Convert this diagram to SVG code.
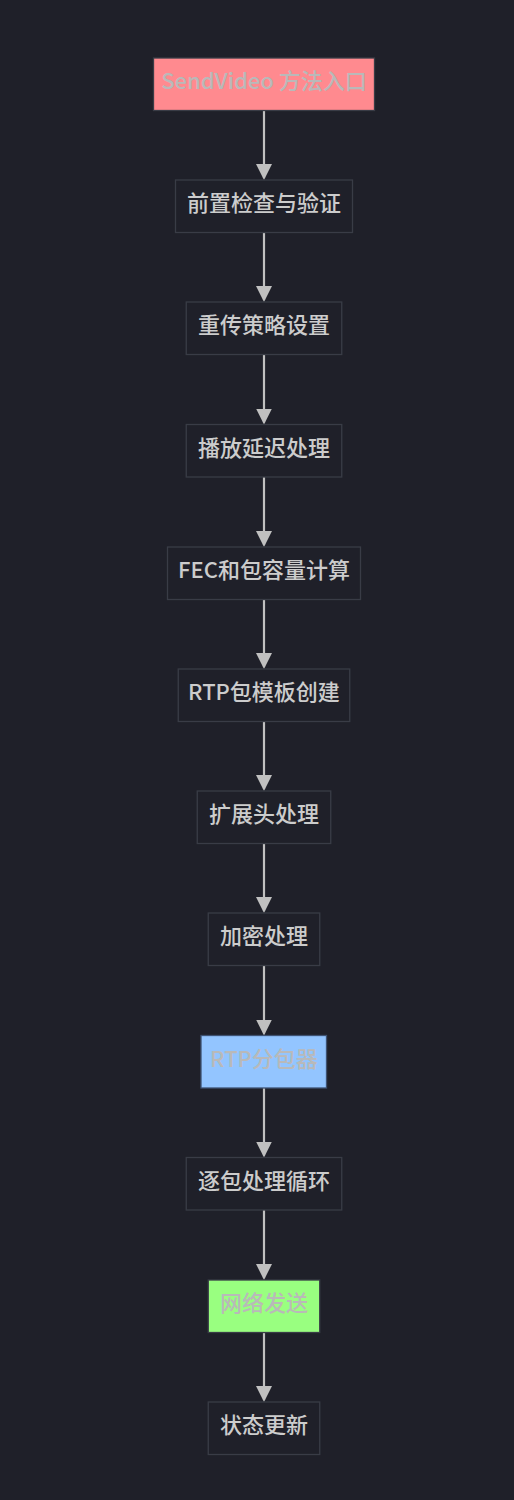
<svg xmlns="http://www.w3.org/2000/svg" width="514" height="1500" viewBox="0 0 514 1500">
<defs>
<marker id="arrow" markerUnits="userSpaceOnUse" viewBox="0 0 16 16" markerWidth="16" markerHeight="16" refX="14" refY="8" orient="auto">
<path d="M0,0 L16,8 L0,16 z" fill="#c0c0c0"/>
</marker>
<style>
.node rect{fill:#1f2029;stroke:#393c46;stroke-width:1.3}
.node text{font-family:"Noto Sans CJK SC","Noto Sans",sans-serif;font-size:22px;font-weight:500;fill:#cccccc;text-anchor:middle}
#n1 rect{fill:#ff8a8f}
#n9 rect{fill:#93c5ff;stroke:#3e5272}
#n11 rect{fill:#99ff80}
#n1 text,#n9 text,#n11 text{fill:#b9b9b9}
.edges line{stroke:#c0c0c0;stroke-width:2.2;marker-end:url(#arrow)}
</style>
</defs>
<rect x="0" y="0" width="514" height="1500" fill="#1f2029"/>
<g class="edges">
<line x1="264" y1="110.5" x2="264" y2="178"/>
<line x1="264" y1="232.5" x2="264" y2="300"/>
<line x1="264" y1="354.5" x2="264" y2="422.5"/>
<line x1="264" y1="477" x2="264" y2="545"/>
<line x1="264" y1="599.5" x2="264" y2="667"/>
<line x1="264" y1="721.5" x2="264" y2="789"/>
<line x1="264" y1="843.5" x2="264" y2="911"/>
<line x1="264" y1="965.5" x2="264" y2="1033.5"/>
<line x1="264" y1="1088" x2="264" y2="1155.5"/>
<line x1="264" y1="1210" x2="264" y2="1278"/>
<line x1="264" y1="1332.5" x2="264" y2="1400"/>
</g>
<g id="n1" class="node"><rect x="153.5" y="58" width="221" height="52.5"/><text x="264" y="89">SendVideo 方法入口</text></g>
<g id="n2" class="node"><rect x="175.5" y="180" width="177" height="52.5"/><text x="264" y="211">前置检查与验证</text></g>
<g id="n3" class="node"><rect x="186.25" y="302" width="155.5" height="52.5"/><text x="264" y="333">重传策略设置</text></g>
<g id="n4" class="node"><rect x="186.25" y="424.5" width="155.5" height="52.5"/><text x="264" y="455.5">播放延迟处理</text></g>
<g id="n5" class="node"><rect x="167.5" y="547" width="193" height="52.5"/><text x="264" y="578">FEC和包容量计算</text></g>
<g id="n6" class="node"><rect x="178.25" y="669" width="171.5" height="52.5"/><text x="264" y="700">RTP包模板创建</text></g>
<g id="n7" class="node"><rect x="197.25" y="791" width="133.5" height="52.5"/><text x="264" y="822">扩展头处理</text></g>
<g id="n8" class="node"><rect x="208.25" y="913" width="111.5" height="52.5"/><text x="264" y="944">加密处理</text></g>
<g id="n9" class="node"><rect x="201" y="1035.5" width="125.5" height="52.5"/><text x="264" y="1066.5">RTP分包器</text></g>
<g id="n10" class="node"><rect x="186.25" y="1157.5" width="155.5" height="52.5"/><text x="264" y="1188.5">逐包处理循环</text></g>
<g id="n11" class="node"><rect x="208.25" y="1280" width="111.5" height="52.5"/><text x="264" y="1311">网络发送</text></g>
<g id="n12" class="node"><rect x="208.25" y="1402" width="111.5" height="52.5"/><text x="264" y="1433">状态更新</text></g>
</svg>
